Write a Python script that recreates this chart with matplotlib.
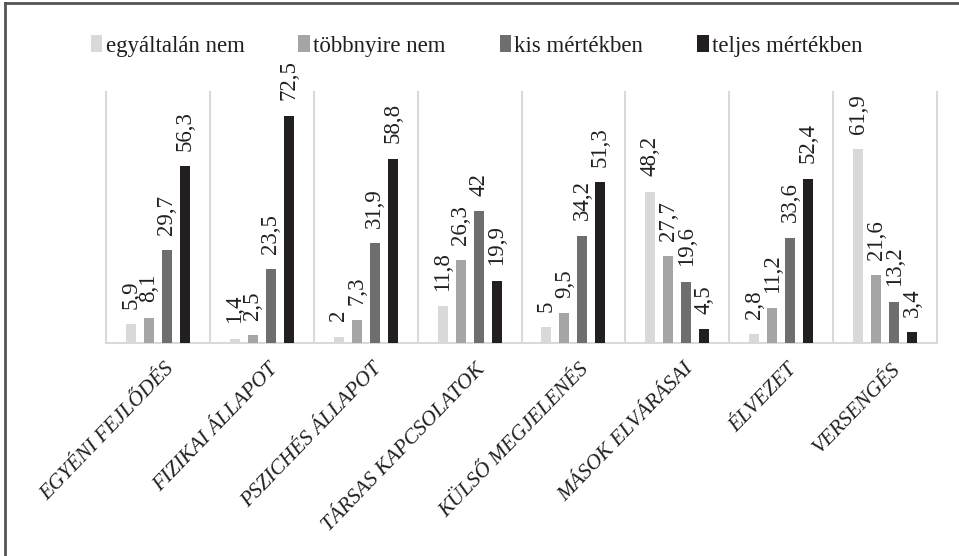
import matplotlib
matplotlib.use("Agg")
import matplotlib.pyplot as plt
import numpy as np
from matplotlib.patches import Patch

categories = ["EGYÉNI FEJLŐDÉS", "FIZIKAI ÁLLAPOT", "PSZICHÉS ÁLLAPOT",
              "TÁRSAS KAPCSOLATOK", "KÜLSŐ MEGJELENÉS", "MÁSOK ELVÁRÁSAI",
              "ÉLVEZET", "VERSENGÉS"]
series_names = ["egyáltalán nem", "többnyire nem", "kis mértékben", "teljes mértékben"]
egyaltalan_nem = [5.9, 1.4, 2, 11.8, 5, 48.2, 2.8, 61.9]
tobbnyire_nem = [8.1, 2.5, 7.3, 26.3, 9.5, 27.7, 11.2, 21.6]
kis_mertekben = [29.7, 23.5, 31.9, 42, 34.2, 19.6, 33.6, 13.2]
teljes_mertekben = [56.3, 72.5, 58.8, 19.9, 51.3, 4.5, 52.4, 3.4]
series = [egyaltalan_nem, tobbnyire_nem, kis_mertekben, teljes_mertekben]
colors = ["#d9d9d9", "#a5a5a5", "#6e6e6e", "#231f20"]

plt.rcParams['font.family'] = ['Liberation Serif', 'DejaVu Serif']

fig = plt.figure(figsize=(9.59, 5.56), dpi=100)
ax = fig.add_axes([106/959, 1-343/556, (937-106)/959, (343-92)/556])

x = np.arange(len(categories))
offsets = [-0.26, -0.087, 0.087, 0.26]
width = 0.096

def fmt(v):
    s = ("%g" % v).replace(".", ",")
    return s

for vals, off, col in zip(series, offsets, colors):
    bars = ax.bar(x + off, vals, width, color=col, zorder=3)
    for b, v in zip(bars, vals):
        ax.annotate(fmt(v), (b.get_x() + b.get_width()/2, v),
                    xytext=(0, 11), textcoords="offset points",
                    rotation=90, ha="center", va="bottom", fontsize=16.5,
                    color="#231f20", annotation_clip=False)

ax.set_xlim(-0.5, len(categories) - 0.5)
ax.set_ylim(0, 80)
for xv in np.arange(-0.5, len(categories), 1.0):
    ax.plot([xv, xv], [0, 80], color="#d9d9d9", lw=1.5, zorder=1, clip_on=False)
ax.plot([-0.5, len(categories) - 0.5], [0, 0], color="#d9d9d9", lw=1.5, zorder=2, clip_on=False)

for s in ax.spines.values():
    s.set_visible(False)
ax.set_yticks([])
ax.set_xticks(x + 0.06)
ax.set_xticklabels(categories, rotation=46, ha="right", va="top",
                   rotation_mode="anchor", fontsize=15.5, style="italic", color="#231f20")
ax.tick_params(axis="x", length=0, pad=12)

handles = [Patch(facecolor=c, edgecolor="none") for c in colors]
fig.legend(handles, series_names, loc="center", bbox_to_anchor=(0.497, 1-46/556),
           ncol=4, frameon=False, fontsize=16.5, handlelength=0.5, handleheight=0.7,
           handletextpad=0.15, columnspacing=2.35, labelcolor="#231f20")

# outer frame (top and left only)
fig.add_artist(plt.Line2D([5/959, 1], [1-3/556, 1-3/556], color="#555555", lw=2, transform=fig.transFigure))
fig.add_artist(plt.Line2D([5/959, 5/959], [0, 1-3/556], color="#555555", lw=2, transform=fig.transFigure))

fig.savefig("out.png", dpi=100)
